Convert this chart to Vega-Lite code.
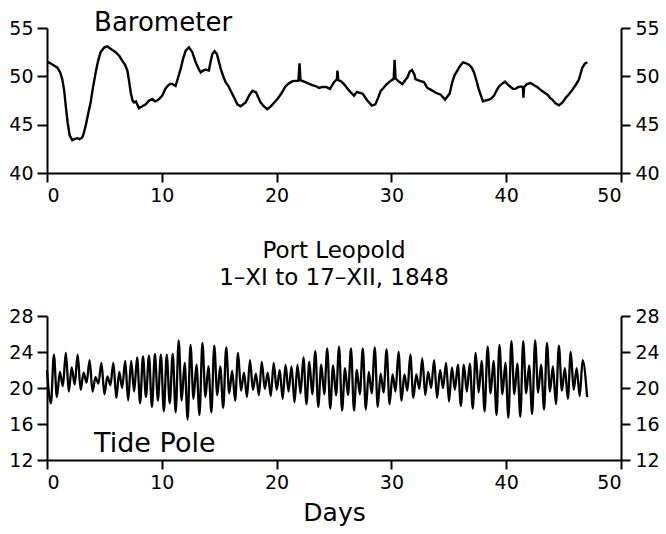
{
  "$schema": "https://vega.github.io/schema/vega-lite/v6.json",
  "padding": {"left": 8, "top": 9, "right": 5, "bottom": 5},
  "background": "white",
  "config": {
    "view": {"stroke": null},
    "font": "DejaVu Sans",
    "axis": {"domainColor": "black", "domainWidth": 2, "tickColor": "black", "tickWidth": 2, "tickSize": 9, "labelFont": "DejaVu Sans", "labelFontSize": 19, "labelColor": "black", "labelPadding": 4, "grid": false, "titleFont": "DejaVu Sans", "titleFontWeight": "normal", "titleColor": "black", "titleFontSize": 25},
    "title": {"font": "DejaVu Sans", "fontWeight": "normal", "color": "black"},
    "concat": {"spacing": 35}
  },
  "datasets": {
    "baro": [
      {"d":0.0,"p":51.4},{"d":0.15,"p":51.45},{"d":0.5,"p":51.2},{"d":0.9,"p":50.9},{"d":1.15,"p":50.4},{"d":1.33,"p":49.7},{"d":1.5,"p":48.5},{"d":1.63,"p":47.0},{"d":1.8,"p":45.2},{"d":1.97,"p":43.9},{"d":2.2,"p":43.4},{"d":2.4,"p":43.5},{"d":2.64,"p":43.6},{"d":2.85,"p":43.5},{"d":3.08,"p":43.7},{"d":3.2,"p":44.1},{"d":3.37,"p":44.9},{"d":3.6,"p":46.2},{"d":3.8,"p":47.3},{"d":4.0,"p":48.8},{"d":4.24,"p":50.4},{"d":4.45,"p":51.6},{"d":4.67,"p":52.5},{"d":5.0,"p":53.0},{"d":5.25,"p":53.1},{"d":5.6,"p":52.8},{"d":5.98,"p":52.5},{"d":6.3,"p":52.1},{"d":6.56,"p":51.6},{"d":6.8,"p":51.2},{"d":7.0,"p":50.6},{"d":7.15,"p":49.5},{"d":7.29,"p":48.35},{"d":7.45,"p":47.5},{"d":7.58,"p":47.3},{"d":7.75,"p":47.4},{"d":8.01,"p":46.7},{"d":8.3,"p":46.9},{"d":8.6,"p":47.1},{"d":8.9,"p":47.5},{"d":9.17,"p":47.65},{"d":9.4,"p":47.4},{"d":9.6,"p":47.5},{"d":9.8,"p":47.7},{"d":10.04,"p":48.0},{"d":10.3,"p":48.7},{"d":10.5,"p":49.0},{"d":10.7,"p":49.2},{"d":10.92,"p":49.2},{"d":11.2,"p":49.0},{"d":11.4,"p":49.8},{"d":11.65,"p":50.8},{"d":11.85,"p":51.8},{"d":12.08,"p":52.65},{"d":12.37,"p":53.0},{"d":12.66,"p":52.5},{"d":12.95,"p":51.45},{"d":13.2,"p":50.8},{"d":13.39,"p":50.4},{"d":13.6,"p":50.6},{"d":13.82,"p":50.7},{"d":14.1,"p":50.6},{"d":14.25,"p":51.5},{"d":14.4,"p":52.3},{"d":14.6,"p":52.6},{"d":14.8,"p":52.3},{"d":15.13,"p":50.8},{"d":15.35,"p":50.0},{"d":15.56,"p":49.4},{"d":15.8,"p":49.0},{"d":16.0,"p":48.5},{"d":16.3,"p":47.8},{"d":16.58,"p":47.1},{"d":16.87,"p":46.9},{"d":17.3,"p":47.3},{"d":17.6,"p":48.0},{"d":17.9,"p":48.5},{"d":18.2,"p":48.35},{"d":18.6,"p":47.3},{"d":18.9,"p":46.9},{"d":19.2,"p":46.6},{"d":19.5,"p":46.9},{"d":19.8,"p":47.3},{"d":20.1,"p":47.7},{"d":20.4,"p":48.2},{"d":20.8,"p":49.0},{"d":21.1,"p":49.3},{"d":21.4,"p":49.5},{"d":21.9,"p":49.55},{"d":22.0,"p":51.35},{"d":22.08,"p":49.6},{"d":22.5,"p":49.4},{"d":23.1,"p":49.1},{"d":23.4,"p":49.0},{"d":23.7,"p":48.8},{"d":24.0,"p":48.9},{"d":24.3,"p":48.9},{"d":24.65,"p":48.7},{"d":25.0,"p":49.4},{"d":25.25,"p":49.7},{"d":25.3,"p":50.6},{"d":25.38,"p":49.6},{"d":25.6,"p":49.5},{"d":25.87,"p":49.2},{"d":26.2,"p":48.7},{"d":26.45,"p":48.35},{"d":26.74,"p":48.0},{"d":27.0,"p":48.4},{"d":27.25,"p":48.3},{"d":27.5,"p":48.2},{"d":27.9,"p":47.5},{"d":28.3,"p":46.97},{"d":28.6,"p":47.1},{"d":28.85,"p":47.8},{"d":29.07,"p":48.5},{"d":29.3,"p":48.8},{"d":29.6,"p":49.2},{"d":29.9,"p":49.5},{"d":30.2,"p":49.75},{"d":30.28,"p":51.7},{"d":30.36,"p":49.8},{"d":30.6,"p":49.5},{"d":30.95,"p":49.2},{"d":31.2,"p":49.6},{"d":31.4,"p":49.9},{"d":31.6,"p":50.5},{"d":31.8,"p":50.65},{"d":32.0,"p":50.2},{"d":32.1,"p":49.7},{"d":32.3,"p":49.6},{"d":32.55,"p":49.5},{"d":32.84,"p":49.4},{"d":33.1,"p":48.85},{"d":33.3,"p":48.7},{"d":33.6,"p":48.5},{"d":33.86,"p":48.3},{"d":34.3,"p":48.1},{"d":34.67,"p":47.6},{"d":35.07,"p":48.2},{"d":35.3,"p":49.4},{"d":35.5,"p":50.1},{"d":35.74,"p":50.6},{"d":36.0,"p":51.1},{"d":36.24,"p":51.45},{"d":36.5,"p":51.35},{"d":36.76,"p":51.2},{"d":37.0,"p":50.9},{"d":37.2,"p":50.4},{"d":37.4,"p":49.6},{"d":37.6,"p":48.7},{"d":37.8,"p":48.0},{"d":37.98,"p":47.4},{"d":38.2,"p":47.5},{"d":38.5,"p":47.6},{"d":38.7,"p":47.7},{"d":38.94,"p":48.0},{"d":39.15,"p":48.5},{"d":39.37,"p":48.95},{"d":39.6,"p":49.2},{"d":39.9,"p":49.45},{"d":40.1,"p":49.2},{"d":40.39,"p":48.9},{"d":40.6,"p":48.7},{"d":40.8,"p":48.7},{"d":41.0,"p":48.85},{"d":41.26,"p":48.95},{"d":41.45,"p":48.9},{"d":41.5,"p":47.8},{"d":41.56,"p":48.9},{"d":41.8,"p":49.2},{"d":42.13,"p":49.3},{"d":42.4,"p":49.1},{"d":42.7,"p":48.9},{"d":43.1,"p":48.5},{"d":43.35,"p":48.3},{"d":43.6,"p":48.1},{"d":43.8,"p":47.8},{"d":44.0,"p":47.6},{"d":44.3,"p":47.2},{"d":44.6,"p":47.0},{"d":44.9,"p":47.3},{"d":45.2,"p":47.8},{"d":45.5,"p":48.2},{"d":45.76,"p":48.6},{"d":46.05,"p":49.1},{"d":46.34,"p":49.7},{"d":46.63,"p":50.9},{"d":46.85,"p":51.3},{"d":47.07,"p":51.45}
    ],
    "tide": [
      {"d":0.00,"h":22.0},{"d":0.34,"h":18.3},{"d":0.60,"h":23.7},{"d":0.86,"h":19.0},{"d":1.12,"h":21.8},{"d":1.38,"h":20.2},{"d":1.64,"h":23.9},{"d":1.90,"h":19.6},{"d":2.15,"h":22.3},{"d":2.41,"h":20.4},{"d":2.67,"h":23.7},{"d":2.93,"h":19.8},{"d":3.19,"h":21.7},{"d":3.45,"h":20.6},{"d":3.71,"h":23.1},{"d":3.97,"h":19.6},{"d":4.22,"h":21.2},{"d":4.48,"h":20.5},{"d":4.74,"h":22.8},{"d":5.00,"h":19.3},{"d":5.26,"h":21.3},{"d":5.52,"h":20.3},{"d":5.78,"h":22.8},{"d":6.04,"h":18.9},{"d":6.29,"h":21.8},{"d":6.55,"h":20.0},{"d":6.81,"h":23.0},{"d":7.07,"h":18.6},{"d":7.33,"h":23.0},{"d":7.59,"h":19.6},{"d":7.85,"h":23.4},{"d":8.11,"h":18.3},{"d":8.36,"h":23.5},{"d":8.62,"h":19.0},{"d":8.88,"h":23.6},{"d":9.14,"h":17.9},{"d":9.40,"h":23.8},{"d":9.66,"h":18.6},{"d":9.92,"h":23.7},{"d":10.18,"h":17.4},{"d":10.43,"h":23.7},{"d":10.69,"h":18.3},{"d":10.95,"h":23.8},{"d":11.21,"h":17.3},{"d":11.47,"h":25.3},{"d":11.73,"h":18.6},{"d":11.99,"h":22.8},{"d":12.25,"h":16.5},{"d":12.50,"h":24.8},{"d":12.76,"h":18.8},{"d":13.02,"h":22.6},{"d":13.28,"h":17.0},{"d":13.54,"h":25.0},{"d":13.80,"h":19.0},{"d":14.06,"h":22.4},{"d":14.32,"h":17.3},{"d":14.57,"h":24.7},{"d":14.83,"h":19.2},{"d":15.09,"h":22.4},{"d":15.35,"h":17.8},{"d":15.61,"h":24.5},{"d":15.87,"h":19.4},{"d":16.13,"h":21.9},{"d":16.39,"h":18.6},{"d":16.64,"h":23.9},{"d":16.90,"h":19.7},{"d":17.16,"h":21.7},{"d":17.42,"h":19.0},{"d":17.68,"h":23.1},{"d":17.94,"h":19.8},{"d":18.20,"h":21.6},{"d":18.46,"h":19.2},{"d":18.71,"h":22.9},{"d":18.97,"h":19.9},{"d":19.23,"h":21.7},{"d":19.49,"h":19.1},{"d":19.75,"h":22.8},{"d":20.01,"h":19.8},{"d":20.27,"h":22.0},{"d":20.53,"h":18.8},{"d":20.78,"h":22.6},{"d":21.04,"h":19.6},{"d":21.30,"h":22.4},{"d":21.56,"h":18.4},{"d":21.82,"h":22.6},{"d":22.08,"h":19.4},{"d":22.34,"h":23.4},{"d":22.60,"h":18.2},{"d":22.85,"h":22.9},{"d":23.11,"h":19.3},{"d":23.37,"h":24.1},{"d":23.63,"h":17.9},{"d":23.89,"h":22.6},{"d":24.15,"h":19.3},{"d":24.41,"h":24.4},{"d":24.67,"h":17.7},{"d":24.92,"h":22.5},{"d":25.18,"h":19.2},{"d":25.44,"h":24.6},{"d":25.70,"h":17.5},{"d":25.96,"h":22.2},{"d":26.22,"h":19.2},{"d":26.48,"h":24.4},{"d":26.74,"h":17.5},{"d":26.99,"h":22.0},{"d":27.25,"h":19.3},{"d":27.51,"h":24.4},{"d":27.77,"h":17.6},{"d":28.03,"h":21.8},{"d":28.29,"h":19.4},{"d":28.55,"h":24.5},{"d":28.81,"h":17.9},{"d":29.06,"h":21.6},{"d":29.32,"h":19.5},{"d":29.58,"h":24.3},{"d":29.84,"h":18.2},{"d":30.10,"h":21.5},{"d":30.36,"h":19.6},{"d":30.62,"h":24.0},{"d":30.88,"h":18.6},{"d":31.13,"h":21.5},{"d":31.39,"h":19.7},{"d":31.65,"h":23.7},{"d":31.91,"h":18.9},{"d":32.17,"h":21.5},{"d":32.43,"h":19.9},{"d":32.69,"h":23.3},{"d":32.95,"h":19.2},{"d":33.20,"h":21.8},{"d":33.46,"h":20.0},{"d":33.72,"h":23.1},{"d":33.98,"h":18.9},{"d":34.24,"h":22.0},{"d":34.50,"h":20.0},{"d":34.76,"h":22.8},{"d":35.02,"h":18.5},{"d":35.27,"h":22.3},{"d":35.53,"h":19.8},{"d":35.79,"h":22.6},{"d":36.05,"h":18.0},{"d":36.31,"h":22.6},{"d":36.57,"h":19.6},{"d":36.83,"h":22.7},{"d":37.09,"h":17.7},{"d":37.34,"h":23.9},{"d":37.60,"h":19.5},{"d":37.86,"h":23.0},{"d":38.12,"h":17.4},{"d":38.38,"h":24.6},{"d":38.64,"h":19.4},{"d":38.90,"h":23.0},{"d":39.16,"h":17.0},{"d":39.41,"h":24.8},{"d":39.67,"h":19.3},{"d":39.93,"h":22.8},{"d":40.19,"h":16.7},{"d":40.45,"h":25.2},{"d":40.71,"h":19.3},{"d":40.97,"h":22.7},{"d":41.23,"h":16.8},{"d":41.48,"h":25.2},{"d":41.74,"h":19.4},{"d":42.00,"h":22.5},{"d":42.26,"h":17.1},{"d":42.52,"h":25.3},{"d":42.78,"h":19.5},{"d":43.04,"h":22.6},{"d":43.30,"h":17.6},{"d":43.55,"h":25.0},{"d":43.81,"h":19.6},{"d":44.07,"h":22.4},{"d":44.33,"h":18.2},{"d":44.59,"h":24.7},{"d":44.85,"h":19.7},{"d":45.11,"h":22.2},{"d":45.37,"h":18.8},{"d":45.62,"h":24.0},{"d":45.88,"h":19.8},{"d":46.14,"h":22.2},{"d":46.40,"h":19.1},{"d":46.66,"h":23.1},{"d":47.05,"h":19.0}
    ]
  },
  "vconcat": [
    {
      "width": 574,
      "height": 145,
      "layer": [
        {
          "data": {"name": "baro"},
          "mark": {"type": "line", "color": "black", "strokeWidth": 2.4},
          "encoding": {
            "x": {"field": "d", "type": "quantitative", "scale": {"domain": [0, 50]}, "axis": {"values": [0, 10, 20, 30, 40, 50], "title": null}},
            "y": {"field": "p", "type": "quantitative", "scale": {"domain": [40, 55], "zero": false}, "axis": {"orient": "left", "values": [40, 45, 50, 55], "title": null, "tickSize": 10}}
          }
        },
        {
          "data": {"name": "baro"},
          "mark": {"type": "line", "strokeOpacity": 0},
          "encoding": {
            "x": {"field": "d", "type": "quantitative", "scale": {"domain": [0, 50]}},
            "y": {"field": "p", "type": "quantitative", "scale": {"domain": [40, 55], "zero": false}, "axis": {"orient": "right", "values": [40, 45, 50, 55], "title": null, "labelPadding": 5}}
          }
        },
        {
          "data": {"values": [{}]},
          "mark": {"type": "text", "align": "left", "baseline": "alphabetic", "fontSize": 26, "font": "DejaVu Sans", "color": "black"},
          "encoding": {
            "x": {"datum": 4.1, "type": "quantitative", "scale": {"domain": [0, 50]}},
            "y": {"datum": 54.7, "type": "quantitative", "scale": {"domain": [40, 55], "zero": false}, "axis": null},
            "text": {"value": "Barometer"}
          }
        }
      ],
      "resolve": {"scale": {"y": "independent"}}
    },
    {
      "width": 574,
      "height": 144,
      "title": {"text": ["Port Leopold", "1–XI to 17–XII, 1848"], "anchor": "middle", "fontSize": 23, "lineHeight": 27, "offset": 17},
      "layer": [
        {
          "data": {"name": "tide"},
          "mark": {"type": "line", "color": "black", "strokeWidth": 2.3, "interpolate": "monotone"},
          "encoding": {
            "x": {"field": "d", "type": "quantitative", "scale": {"domain": [0, 50]}, "axis": {"values": [0, 10, 20, 30, 40, 50], "title": "Days", "titlePadding": 8}},
            "y": {"field": "h", "type": "quantitative", "scale": {"domain": [12, 28], "zero": false}, "axis": {"orient": "left", "values": [12, 16, 20, 24, 28], "title": null, "tickSize": 10}}
          }
        },
        {
          "data": {"name": "tide"},
          "mark": {"type": "line", "strokeOpacity": 0},
          "encoding": {
            "x": {"field": "d", "type": "quantitative", "scale": {"domain": [0, 50]}},
            "y": {"field": "h", "type": "quantitative", "scale": {"domain": [12, 28], "zero": false}, "axis": {"orient": "right", "values": [12, 16, 20, 24, 28], "title": null, "labelPadding": 5}}
          }
        },
        {
          "data": {"values": [{}]},
          "mark": {"type": "text", "align": "left", "baseline": "alphabetic", "fontSize": 27, "font": "DejaVu Sans", "color": "black"},
          "encoding": {
            "x": {"datum": 4.1, "type": "quantitative", "scale": {"domain": [0, 50]}},
            "y": {"datum": 12.9, "type": "quantitative", "scale": {"domain": [12, 28], "zero": false}, "axis": null},
            "text": {"value": "Tide Pole"}
          }
        }
      ],
      "resolve": {"scale": {"y": "independent"}}
    }
  ]
}
